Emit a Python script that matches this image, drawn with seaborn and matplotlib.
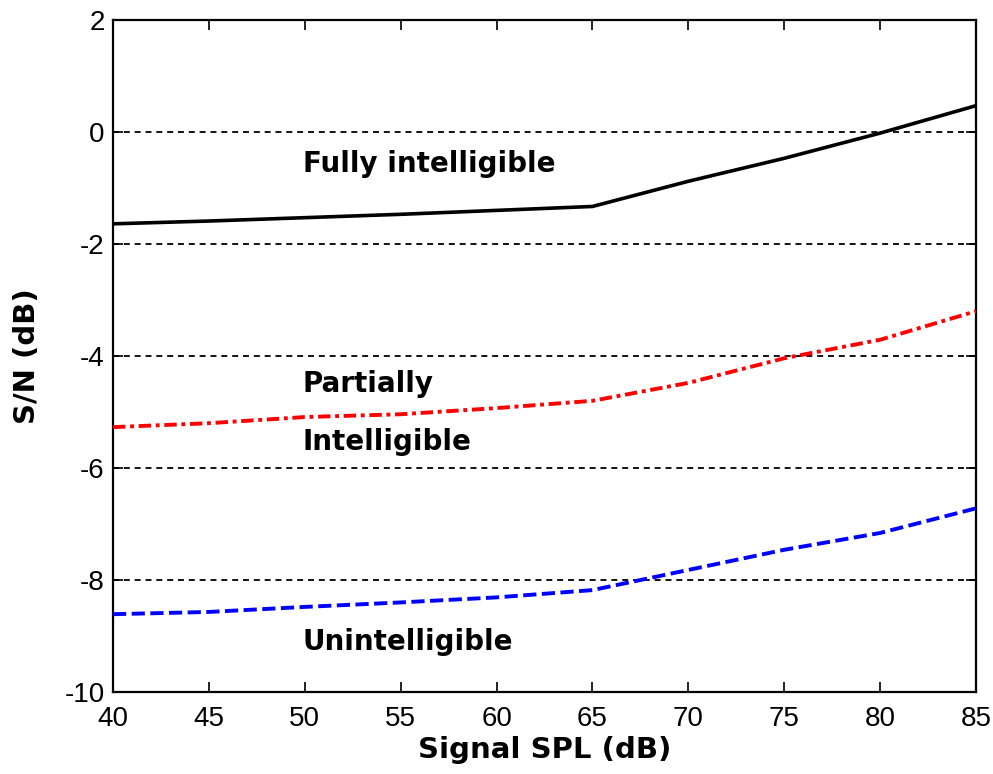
import numpy as np
import pandas as pd
import matplotlib
matplotlib.use("Agg")
import matplotlib.pyplot as plt
import seaborn as sns

# Signal level (dB SPL) and the S/N boundaries between intelligibility regions
spl = [40, 45, 50, 55, 60, 65, 70, 75, 80, 85]
fully = [-1.64, -1.59, -1.53, -1.47, -1.40, -1.33, -0.88, -0.47, -0.02, 0.47]
partial = [-5.27, -5.20, -5.09, -5.04, -4.93, -4.80, -4.48, -4.04, -3.71, -3.20]
unintel = [-8.61, -8.57, -8.48, -8.40, -8.31, -8.18, -7.82, -7.46, -7.16, -6.72]

y_ticks = [2, 0, -2, -4, -6, -8, -10]
x_ticks = [40, 45, 50, 55, 60, 65, 70, 75, 80, 85]
grid_levels = [0, -2, -4, -6, -8]

sns.set_style("white", {"xtick.direction": "in", "ytick.direction": "in",
                        "text.color": "black", "axes.labelcolor": "black",
                        "xtick.color": "black", "ytick.color": "black"})
plt.rcParams["font.family"] = ["Liberation Sans", "DejaVu Sans"]
plt.rcParams["axes.unicode_minus"] = False

fig = plt.figure(figsize=(9.93, 7.74), dpi=100)
ax = fig.add_axes([0.1138, 0.1059, 0.8691, 0.8683])

for lvl in grid_levels:
    ax.axhline(lvl, color="black", lw=1.3, ls=(0, (3.3, 2.7)), zorder=1)

df = pd.DataFrame({"spl": spl, "fully": fully, "partial": partial, "unintel": unintel})
sns.lineplot(data=df, x="spl", y="fully", ax=ax, color="black", lw=2.6, zorder=3)
sns.lineplot(data=df, x="spl", y="partial", ax=ax, color="#ff0000", lw=2.8,
             linestyle=(0, (3.2, 1.2, 1.0, 1.2)), zorder=3)
sns.lineplot(data=df, x="spl", y="unintel", ax=ax, color="#0000ff", lw=2.8,
             linestyle=(0, (3.4, 1.4)), zorder=3)

ax.set_xlim(40, 85)
ax.set_ylim(-10, 2)
ax.set_xticks(x_ticks)
ax.set_yticks(y_ticks)
ax.tick_params(axis="both", which="both", direction="in", length=7, width=1.2,
               labelsize=20, top=True, right=True, bottom=True, left=True,
               colors="black")
ax.tick_params(axis="x", pad=10)
ax.tick_params(axis="y", pad=6)
for s in ax.spines.values():
    s.set_color("black")
    s.set_linewidth(1.6)

bold = dict(family=["DejaVu Sans"], fontsize=21, fontweight="bold", color="black")
ax.set_xlabel("Signal SPL (dB)", labelpad=3, **bold)
ax.set_ylabel("S/N (dB)", labelpad=17, **bold)

label_kw = dict(ha="left", va="center", zorder=4, family=["DejaVu Sans"],
                fontsize=20, fontweight="bold", color="black")
ax.text(49.9, -0.57, "Fully intelligible", **label_kw)
ax.text(49.9, -4.5, "Partially", **label_kw)
ax.text(49.9, -5.53, "Intelligible", **label_kw)
ax.text(49.9, -9.1, "Unintelligible", **label_kw)

fig.savefig("out.png", dpi=100, facecolor="white")
